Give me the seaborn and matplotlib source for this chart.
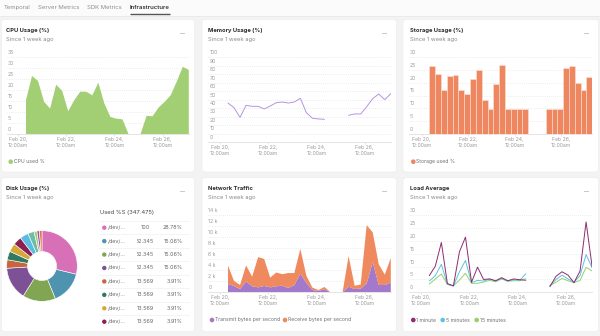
import numpy as np
import pandas as pd
import matplotlib
matplotlib.use("Agg")
import matplotlib.pyplot as plt
import matplotlib.transforms as mtransforms
from matplotlib.patches import FancyBboxPatch, Circle, Rectangle
import seaborn as sns

sns.set_theme(style="white")
plt.rcParams["font.family"] = ["Inter", "DejaVu Sans"]

# ---------------- data ----------------
tabs = ["Temporal", "Server Metrics", "SDK Metrics", "Infrastructure"]

times = pd.date_range("2024-02-20 08:00", periods=28, freq="6h")
tick_dates = pd.to_datetime(["2024-02-20", "2024-02-22", "2024-02-24", "2024-02-26"])
tick_labels = ["Feb 20,\n12:00am", "Feb 22,\n12:00am", "Feb 24,\n12:00am", "Feb 26,\n12:00am"]

nan = np.nan
cpu_used = [15.4, 26.5, 24.2, 14.7, 11.6, 22.5, 19.7, 10.4, 15.4, 19.3, 19.3, 17.7, 23.4, 13.9,
            7.8, 7.0, 6.7, 0.0, nan, 0.0, 8.3, 8.1, 12.1, 14.7, 17.7, 23.9, 30.7, 29.2]
memory_used = [46.0, 40.5, 29.1, 43.3, 42.1, 42.1, 39.0, 42.5, 46.4, 47.2, 46.0, 47.2, 51.6, 34.6,
               28.0, 27.2, 26.8, nan, nan, nan, 31.5, 33.1, 33.1, 41.7, 51.2, 56.7, 50.0, 57.1]
storage_used = [26.4, 23.3, 17.0, 22.6, 23.0, 17.0, 15.4, 21.5, 24.9, 13.1, 9.7, 19.4, 27.1, 9.7,
                9.7, 9.7, 9.7, nan, nan, nan, 9.7, 9.7, 9.7, 25.8, 26.4, 19.9, 17.3, 22.3]
transmit_bps = [1500, 1150, 600, 2000, 1100, 900, 1150, 900, 1100, 1200, 800, 1300, 3400, 1700,
                420, 240, 550, 0, nan, 0, 1030, 600, 670, 1600, 5450, 1330, 1330, 1760]
receive_bps = [3350, 910, 730, 2900, 1750, 5500, 4910, 1770, 2500, 2100, 2700, 2200, 4500, 1300,
               430, 180, 420, 0, nan, 0, 5570, 600, 730, 10600, 5450, 3770, 1870, 4480]
load_1m = [6.5, 10.2, 19.4, 3.4, 2.5, 15.8, 21.5, 3.9, 9.8, 5.0, 5.2, 4.5, 5.7, 4.5,
           5.2, 4.9, 4.7, nan, nan, nan, 2.2, 6.2, 8.0, 6.7, 3.75, 8.3, 27.4, 10.0]
load_5m = [4.4, 6.5, 10.9, 3.1, 2.5, 8.0, 12.4, 3.75, 4.65, 4.4, 5.2, 4.4, 5.4, 4.4,
           4.9, 4.65, 7.2, nan, nan, nan, 2.6, 4.9, 6.7, 5.2, 3.9, 6.5, 14.7, 9.6]
load_15m = [3.2, 5.2, 7.1, 3.1, 2.5, 4.8, 7.4, 3.5, 3.5, 4.0, 4.65, 4.1, 5.2, 4.3,
            4.5, 4.5, 5.3, nan, nan, nan, 2.6, 3.9, 5.4, 4.5, 3.75, 4.65, 9.7, 8.3]

disk_names = ["/dev/root", "/dev/sda1", "/dev/sdb1", "/dev/sdc1", "/dev/loop0", "/dev/loop1",
              "/dev/loop2", "/dev/loop3", "/dev/loop4", "/dev/loop5", "/dev/loop6", "/dev/loop7",
              "/dev/loop8"]
disk_used = [100, 52.345, 52.345, 52.345, 13.569, 13.569, 13.569, 13.569, 13.569, 10.0, 4.5, 4.1, 3.995]
disk_colors = ["#d870b8", "#4e93b0", "#80a653", "#7d5196", "#c8653f", "#2f7a62", "#d6a83a",
               "#8c2052", "#5bbbe0", "#6dbda7", "#a2d070", "#9b56b8", "#e5713f"]

# ---------------- colours ----------------
PAGE = "#f3f3f3"
CPU_GREEN = "#a3cf74"
MEM_PURPLE = "#b892e2"
STORAGE_ORANGE = "#ee8660"
TX_PURPLE = "#a37acb"
RX_ORANGE = "#ef8a5f"
LOAD_COLORS = {"1 minute": "#8e2b6e", "5 minutes": "#5cc3e3", "15 minutes": "#92d36c"}
TICK_GREY = "#9c9c9c"
GRID_GREY = "#dadada"

W, H = 600, 336
fig = plt.figure(figsize=(W / 100, H / 100), dpi=100, facecolor=PAGE)

bg = fig.add_axes([0, 0, 1, 1])
bg.set_xlim(0, W)
bg.set_ylim(H, 0)
bg.axis("off")

# tab bar
bg.add_patch(Rectangle((0, 0), W, 15.5, color="#fbfbfb", zorder=0))
bg.plot([0, W], [15.5, 15.5], color="#e4e4e4", lw=0.5)
tab_x = [3.3, 37.5, 87.0, 130.0]
for name, x in zip(tabs, tab_x):
    active = name == "Infrastructure"
    bg.text(x, 7.2, name, fontsize=4.3, color="#333333" if active else "#8e8e8e",
            fontweight="semibold" if active else "normal", va="center", ha="left")
bg.plot([130, 169.5], [14.3, 14.3], color="#555555", lw=1.0, solid_capstyle="butt")

# cards
card_x = [(1.5, 194.5), (202.0, 396.5), (403.0, 598.5)]
card_y = [(19.5, 172.0), (177.7, 331.5)]
for (y0, y1) in card_y:
    for (x0, x1) in card_x:
        r = 3
        bg.add_patch(FancyBboxPatch((x0 + r, y0 + r), x1 - x0 - 2 * r, y1 - y0 - 2 * r,
                                    boxstyle=f"round,pad={r}", facecolor="white",
                                    edgecolor="#ebebeb", linewidth=0.4, zorder=1))

titles = [["CPU Usage (%)", "Memory Usage (%)", "Storage Usage (%)"],
          ["Disk Usage (%)", "Network Traffic", "Load Average"]]
title_x = [6.0, 208.0, 409.5]
for row, (y0, y1) in enumerate(card_y):
    for col, (x0, x1) in enumerate(card_x):
        bg.text(title_x[col], y0 + 10.8, titles[row][col], fontsize=4.15, fontweight="bold",
                color="#2b2b2b", va="center", ha="left", zorder=3)
        bg.text(title_x[col], y0 + 19.5, "Since 1 week ago", fontsize=4.2, color="#8a8a8a",
                va="center", ha="left", zorder=3)
        bg.text(x1 - 12, y0 + 14.3, "...", fontsize=5, color="#555555", va="baseline",
                ha="center", zorder=3)


def add_axes_px(px0, px1, py_top, py_base):
    ax = fig.add_axes([px0 / W, 1 - py_base / H, (px1 - px0) / W, (py_base - py_top) / H])
    ax.set_facecolor("none")
    return ax


def date_limits(px0, px1, tick0_px, day_px):
    base = pd.Timestamp("2024-02-20")
    return (base + pd.Timedelta(days=(px0 - tick0_px) / day_px),
            base + pd.Timedelta(days=(px1 - tick0_px) / day_px))


def style_axes(ax, yticks, ylabels, label_px, px0, px1, xticks):
    ax.set_ylim(yticks[0], yticks[-1])
    for s in ("top", "right", "left"):
        ax.spines[s].set_visible(False)
    ax.spines["bottom"].set_color("#e0e0e0")
    ax.spines["bottom"].set_linewidth(0.6)
    ax.set_yticks(yticks)
    ax.tick_params(axis="y", length=0, labelleft=False)
    ax.grid(axis="y", color=GRID_GREY, linestyle=(0, (1, 2)), linewidth=0.5)
    ax.grid(axis="x", visible=False)
    ax.set_axisbelow(True)
    ax.set_xlabel("")
    ax.set_ylabel("")
    trans = mtransforms.offset_copy(
        mtransforms.blended_transform_factory(ax.transAxes, ax.transData),
        fig=fig, x=0, y=4.6, units="dots")
    for v, s in zip(yticks, ylabels):
        ax.text((label_px - px0) / (px1 - px0), v, s, transform=trans, ha="left", va="center",
                fontsize=3.7, color=TICK_GREY, clip_on=False)
    ax.set_xticks(xticks)
    ax.set_xticklabels(tick_labels, fontsize=3.7, color=TICK_GREY, linespacing=1.25)
    ax.tick_params(axis="x", bottom=True, length=1.2, width=0.4, color="#d0d0d0", pad=1.0)


def legend_row(items, y):
    for x, label, color in items:
        bg.add_patch(Circle((x, y), 1.6, color=color, zorder=3))
        bg.text(x + 3.0, y, label, fontsize=3.7, color="#6f6f6f", va="center", ha="left", zorder=3)


def segments(values):
    v = np.asarray(values, dtype=float)
    seg = np.cumsum(np.isnan(v))
    return v, seg


DAY_PX = 24.12

# ---------------- CPU usage ----------------
px0, px1 = 7.0, 188.7
ax = add_axes_px(px0, px1, 57.3, 134.0)
cpu = np.asarray(cpu_used, dtype=float)
ax.fill_between(times, 0, cpu, where=np.isfinite(cpu), color=CPU_GREEN, linewidth=0)
ax.set_xlim(*date_limits(px0, px1, 26.0 - 8.04, DAY_PX))
style_axes(ax, list(range(0, 36, 5)), [str(v) for v in range(0, 36, 5)], 7.3, px0, px1, tick_dates)
legend_row([(10.7, "CPU used %", CPU_GREEN)], 161.7)

# ---------------- Memory usage ----------------
px0, px1 = 208.0, 390.7
ax = add_axes_px(px0, px1, 57.3, 142.0)
v, seg = segments(memory_used)
mem_df = pd.DataFrame({"time": times, "value": v, "seg": seg}).dropna()
sns.lineplot(data=mem_df, x="time", y="value", units="seg", estimator=None, color=MEM_PURPLE,
             linewidth=0.7, ax=ax)
ax.set_xlim(*date_limits(px0, px1, 228.0 - 8.04, DAY_PX))
style_axes(ax, list(range(0, 101, 10)), [str(v) for v in range(0, 101, 10)], 210.0, px0, px1,
           tick_dates)

# ---------------- Storage usage ----------------
px0, px1 = 409.0, 592.3
ax = add_axes_px(px0, px1, 57.3, 133.7)
slot_labels = list(times.strftime("%b %d %H:%M"))
st_df = pd.DataFrame({"slot": slot_labels, "value": storage_used})
sns.barplot(data=st_df, x="slot", y="value", order=slot_labels, color=STORAGE_ORANGE,
            saturation=1, width=1.0, edgecolor="#fbe3d8", linewidth=0.4, errorbar=None, ax=ax)
slot_px = 5.82
ax.set_xlim(-0.5 + (px0 - 429.3) / slot_px, 27.5)
cat_ticks = [-0.5 - 8 / 6 + 8 * k for k in range(4)]
style_axes(ax, list(range(0, 31, 5)), [str(v) for v in range(0, 31, 5)], 410.0, px0, px1, cat_ticks)
legend_row([(413.3, "Storage used %", STORAGE_ORANGE)], 161.7)

# ---------------- Disk usage ----------------
total = sum(disk_used)
cx, cy, rad = 42.0, 266.0, 35.3
pie_ax = fig.add_axes([(cx - rad * 1.02) / W, 1 - (cy + rad * 1.02) / H,
                       2 * rad * 1.02 / W, 2 * rad * 1.02 / H])
pie_ax.pie(disk_used, colors=disk_colors, startangle=90, counterclock=False, radius=1,
           wedgeprops=dict(width=1 - 14.5 / 35.3, edgecolor="white", linewidth=0.4))
pie_ax.set_xlim(-1.02, 1.02)
pie_ax.set_ylim(-1.02, 1.02)
pie_ax.set_aspect("equal")

bg.text(100.0, 212.7, f"Used %S ({total:.3f})", fontsize=4.2, color="#444444", va="center",
        ha="left", zorder=3)
table_clip = mtransforms.TransformedBbox(
    mtransforms.Bbox([[98, 205], [190, 325.5]]), bg.transData)
value_clip = mtransforms.TransformedBbox(
    mtransforms.Bbox([[137.3, 205], [160, 325.5]]), bg.transData)
bg.plot([98.5, 188.5], [220.8, 220.8], color="#ececec", lw=0.4, zorder=2)
row_y0, row_dy = 227.7, 13.43
for i in range(8):
    y = row_y0 + i * row_dy
    c = Circle((104.3, y), 1.5, color=disk_colors[i], zorder=3)
    bg.add_patch(c)
    c.set_clip_box(table_clip)
    t1 = bg.text(108.3, y, disk_names[i][:5] + "...", fontsize=3.9, color="#666666",
                 va="center", ha="left", zorder=3)
    t2 = bg.text(145.0, y, f"{disk_used[i]:g}", fontsize=3.9, color="#666666",
                 va="center", ha="center", zorder=3)
    t3 = bg.text(182.7, y, f"{disk_used[i] / total * 100:.2f}%", fontsize=3.9, color="#666666",
                 va="center", ha="right", zorder=3)
    for t in (t1, t3):
        t.set_clip_box(table_clip)
        t.set_clip_on(True)
    t2.set_clip_box(value_clip)
    t2.set_clip_on(True)
    if i < 7:
        bg.plot([98.5, 188.5], [y + 6.7, y + 6.7], color="#ececec", lw=0.4, zorder=2)

# ---------------- Network traffic ----------------
px0, px1 = 208.0, 390.7
ax = add_axes_px(px0, px1, 215.3, 292.3)
tx = np.asarray(transmit_bps, dtype=float)
rx = np.asarray(receive_bps, dtype=float)
ok = np.isfinite(tx)
ax.fill_between(times, 0, tx, where=ok, color=TX_PURPLE, linewidth=0)
ax.fill_between(times, tx, tx + rx, where=ok, color=RX_ORANGE, linewidth=0)
ax.set_xlim(*date_limits(px0, px1, 228.0 - 8.04, DAY_PX))
net_ticks = list(range(0, 14001, 2000))
net_labels = ["0"] + [f"{v // 1000} k" for v in net_ticks[1:]]
style_axes(ax, net_ticks, net_labels, 208.3, px0, px1, tick_dates)
legend_row([(212.0, "Transmit bytes per second", TX_PURPLE),
            (285.0, "Receive bytes per second", RX_ORANGE)], 320.0)

# ---------------- Load average ----------------
px0, px1 = 409.0, 592.0
ax = add_axes_px(px0, px1, 215.3, 292.3)
frames = []
for name, vals in (("1 minute", load_1m), ("5 minutes", load_5m), ("15 minutes", load_15m)):
    v, seg = segments(vals)
    frames.append(pd.DataFrame({"time": times, "value": v, "seg": seg, "series": name}))
load_df = pd.concat(frames, ignore_index=True).dropna()
sns.lineplot(data=load_df, x="time", y="value", hue="series", units="seg", estimator=None,
             palette=LOAD_COLORS, hue_order=["15 minutes", "5 minutes", "1 minute"],
             linewidth=0.7, legend=False, ax=ax)
ax.set_xlim(*date_limits(px0, px1, 429.3 - 8.04, DAY_PX))
style_axes(ax, list(range(0, 31, 5)), [str(v) for v in range(0, 31, 5)], 410.0, px0, px1, tick_dates)
legend_row([(413.3, "1 minute", LOAD_COLORS["1 minute"]),
            (442.7, "5 minutes", LOAD_COLORS["5 minutes"]),
            (476.7, "15 minutes", LOAD_COLORS["15 minutes"])], 320.0)

fig.savefig("out.png", dpi=100, facecolor=PAGE)
